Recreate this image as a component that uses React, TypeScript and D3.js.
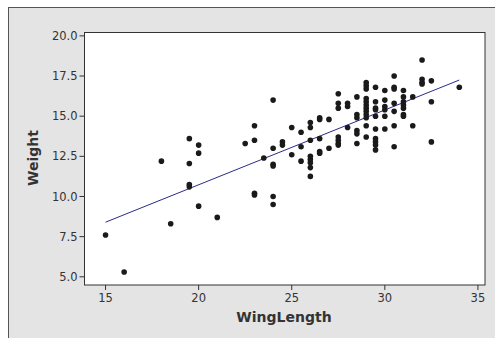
import React from "react";
import * as d3 from "d3";

const wingLength: number[] = [
  15, 16, 18, 18.5, 19.5, 19.5, 19.5, 19.5, 20, 20, 20, 21, 22.5,
  23, 23, 23, 23, 23.5, 24, 24, 24, 24, 24, 24, 24.5, 24.5, 25, 25,
  25.5, 25.5, 25.5, 26, 26, 26, 26, 26, 26, 26, 26, 26.5, 26.5, 26.5, 26.5, 26.5,
  27, 27, 27.5, 27.5, 27.5, 27.5, 27.5, 27.5, 27.5, 28, 28, 28,
  28.5, 28.5, 28.5, 28.5, 28.5, 28.5,
  29, 29, 29, 29, 29, 29, 29, 29, 29, 29, 29, 29,
  29.5, 29.5, 29.5, 29.5, 29.5, 29.5, 29.5, 29.5, 29.5, 29.5,
  30, 30, 30, 30, 30, 30,
  30.5, 30.5, 30.5, 30.5, 30.5, 30.5, 30.5,
  31, 31, 31, 31, 31, 31, 31,
  31.5, 31.5, 32, 32, 32, 32, 32.5, 32.5, 32.5, 34,
];
const weight: number[] = [
  7.6, 5.3, 12.2, 8.3, 13.6, 12.05, 10.75, 10.6, 13.2, 12.7, 9.4, 8.7, 13.3,
  14.4, 13.5, 10.2, 10.1, 12.4, 16.0, 13.0, 12.0, 11.9, 10.0, 9.5, 13.4, 13.2, 14.3, 12.6,
  14.0, 13.1, 12.2, 14.6, 14.3, 13.5, 12.5, 12.3, 12.1, 11.8, 11.25, 14.9, 14.8, 13.6, 12.8, 12.7,
  14.8, 13.0, 16.4, 15.8, 15.5, 13.7, 13.5, 13.3, 13.2, 15.8, 15.6, 14.3,
  16.2, 15.1, 14.9, 14.1, 13.9, 13.3,
  17.1, 16.9, 16.7, 16.1, 15.7, 15.5, 15.3, 15.1, 14.9, 14.4, 13.7, 15.9,
  16.8, 15.9, 15.5, 15.4, 15.0, 14.2, 13.6, 13.4, 13.2, 12.9,
  16.6, 16.0, 15.6, 15.4, 15.0, 14.2,
  17.5, 16.8, 16.7, 15.8, 15.3, 14.4, 13.1,
  16.6, 16.2, 15.9, 15.7, 15.5, 15.1, 15.0,
  16.2, 14.4, 18.5, 17.3, 17.1, 17.0, 17.2, 15.9, 13.4, 16.8,
];
const fitX: number[] = [15, 34];
const fitY: number[] = [8.4, 17.25];
const xTicks: number[] = [15, 20, 25, 30, 35];
const yTicks: number[] = [5, 7.5, 10, 12.5, 15, 17.5, 20];

export default function App() {
  const W = 495, H = 338;
  const left = 84.5, right = 485, top = 32.5, bottom = 285;
  const x = d3.scaleLinear().domain([13.87, 35.38]).range([left, right]);
  const y = d3.scaleLinear().domain([4.49, 20.21]).range([bottom, top]);
  const line = d3.line<number>().x((_, i) => x(fitX[i])).y((d) => y(d));
  const font = "'DejaVu Sans', Verdana, sans-serif";
  return (
    <svg width={W} height={H} style={{ position: "absolute", left: 0, top: 0 }} fontFamily={font}>
      <rect x={0} y={0} width={W} height={H} fill="#fff" />
      <rect x={8.5} y={7.5} width={W} height={H} fill="#e4e4e5" stroke="#555" strokeWidth={1} />
      <rect x={left} y={top} width={right - left} height={bottom - top} fill="#fff" stroke="#333" strokeWidth={1} />
      {yTicks.map((t) => (
        <g key={"y" + t}>
          <line x1={left - 5} x2={left} y1={y(t)} y2={y(t)} stroke="#333" />
          <text x={left - 7} y={y(t)} dy="0.35em" textAnchor="end" fontSize={11.5} fill="#333">
            {t.toFixed(1)}
          </text>
        </g>
      ))}
      {xTicks.map((t) => (
        <g key={"x" + t}>
          <line x1={x(t)} x2={x(t)} y1={bottom} y2={bottom + 5} stroke="#333" />
          <text x={x(t)} y={bottom + 17} textAnchor="middle" fontSize={11.5} fill="#333">
            {t}
          </text>
        </g>
      ))}
      <path d={line(fitY) || ""} fill="none" stroke="#2a2a8c" strokeWidth={1} />
      {wingLength.map((w, i) => (
        <circle key={i} cx={x(w)} cy={y(weight[i])} r={2.8} fill="#1a1a1a" />
      ))}
      <text x={284} y={322} textAnchor="middle" fontSize={14} fontWeight="bold" fill="#333">
        WingLength
      </text>
      <text
        transform={`translate(38,158) rotate(-90)`}
        textAnchor="middle"
        fontSize={14}
        fontWeight="bold"
        fill="#333"
      >
        Weight
      </text>
    </svg>
  );
}
